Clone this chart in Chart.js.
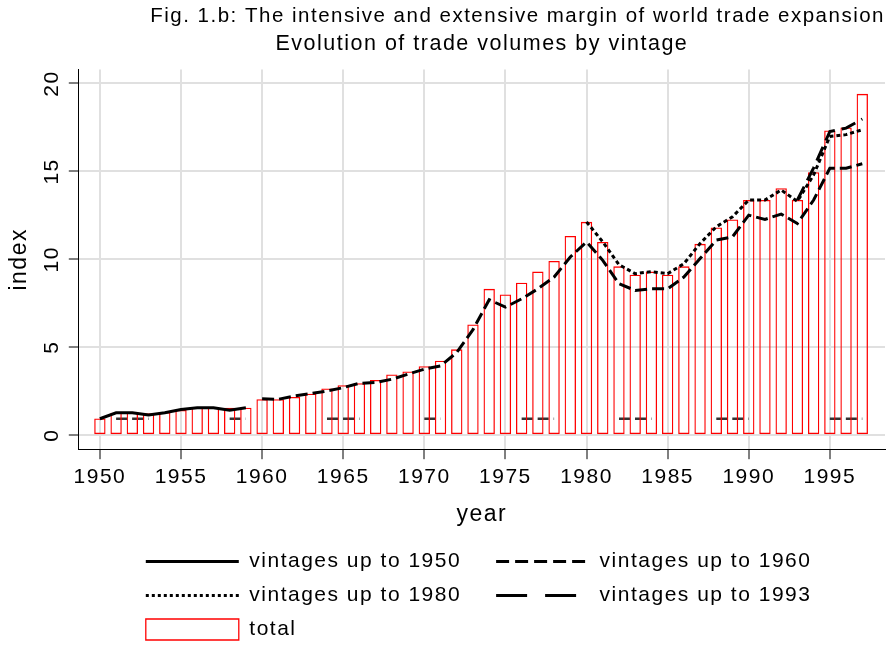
<!DOCTYPE html>
<html>
<head>
<meta charset="utf-8">
<title>Evolution of trade volumes by vintage</title>
<script src="https://cdn.jsdelivr.net/npm/chart.js@4.4.1/dist/chart.umd.min.js"></script>
<style>
  body { margin: 0; background: #fff; }
</style>
</head>
<body>
<canvas id="tradeChart" width="896" height="650"></canvas>
<script>
// years on the x axis
var years = [1950, 1951, 1952, 1953, 1954, 1955, 1956, 1957, 1958, 1959,
             1960, 1961, 1962, 1963, 1964, 1965, 1966, 1967, 1968, 1969,
             1970, 1971, 1972, 1973, 1974, 1975, 1976, 1977, 1978, 1979,
             1980, 1981, 1982, 1983, 1984, 1985, 1986, 1987, 1988, 1989,
             1990, 1991, 1992, 1993, 1994, 1995, 1996, 1997];

// total trade index (bars)
var total = [0.95, 1.27, 1.27, 1.24, 1.31, 1.43, 1.56, 1.56, 1.56, 1.56,
             2.04, 2.04, 2.17, 2.36, 2.65, 2.84, 2.95, 3.14, 3.45, 3.62,
             3.92, 4.23, 4.88, 6.29, 8.32, 8.0, 8.67, 9.3, 9.9, 11.33,
             12.13, 10.99, 9.6, 9.12, 9.3, 9.12, 9.6, 10.88, 11.81, 12.27,
             13.37, 13.37, 14.04, 13.37, 14.95, 17.33, 17.5, 19.41];

var v1950 = [0.93, 1.27, 1.27, 1.14, 1.27, 1.46, 1.56, 1.56, 1.41, 1.56,
             null, null, null, null, null, null, null, null, null, null,
             null, null, null, null, null, null, null, null, null, null,
             null, null, null, null, null, null, null, null, null, null,
             null, null, null, null, null, null, null, null];

var v1960 = [null, null, null, null, null, null, null, null, null, null,
             2.07, 2.04, 2.23, 2.36, 2.51, 2.7, 2.95, 2.99, 3.18, 3.47,
             3.75, 3.94, 4.7, 6.0, 7.7, 7.28, 7.75, 8.32, 8.99, 10.13,
             10.99, 9.94, 8.61, 8.23, 8.32, 8.32, 8.99, 10.04, 11.09, 11.28,
             12.51, 12.27, 12.57, 12.04, 13.37, 15.18, 15.18, 15.43];

var v1980 = [null, null, null, null, null, null, null, null, null, null,
             null, null, null, null, null, null, null, null, null, null,
             null, null, null, null, null, null, null, null, null, null,
             12.13, 10.99, 9.7, 9.18, 9.3, 9.18, 9.75, 10.9, 11.85, 12.42,
             13.37, 13.37, 13.94, 13.3, 14.8, 16.99, 17.09, 17.37];

var v1993 = [null, null, null, null, null, null, null, null, null, null,
             null, null, null, null, null, null, null, null, null, null,
             null, null, null, null, null, null, null, null, null, null,
             null, null, null, null, null, null, null, null, null, null,
             null, null, null, 13.37, 15.2, 17.27, 17.46, 17.98];

// short pieces near the bottom of the plot
var vBase = [null, 0.93, 0.93, 0.93, null, null, null, null, 0.93, 0.93,
             null, null, null, null, 0.93, 0.93, 0.93, null, null, null,
             0.93, 0.93, null, null, null, null, 0.93, 0.93, 0.93, null,
             null, null, 0.93, 0.93, 0.93, null, null, null, 0.93, 0.93,
             0.93, null, null, null, null, 0.93, 0.93, 0.93];

var xTicks = [1950, 1955, 1960, 1965, 1970, 1975, 1980, 1985, 1990, 1995];
var yTicks = [0, 5, 10, 15, 20];

// dash used for each series in the legend (Stata draws them longer there)
var legendDash = [[], [13, 6], [3, 3], [31, 18], []];

var gridColor = 'rgb(224, 224, 224)';

Chart.defaults.font.family = "'Liberation Sans', Arial, sans-serif";
Chart.defaults.color = '#000';

// the original text is set a little wider than normal
var letterSpacing = {
    id: 'letterSpacing',
    beforeUpdate: function (chart) {
        chart.ctx.letterSpacing = '1.5px';
    }
};

// move the legend block so its first column lines up under the plot
var legendIndent = {
    id: 'legendIndent',
    beforeDraw: function (chart) {
        chart.legend.left = chart.chartArea.left + 54;
    }
};

var ctx = document.getElementById('tradeChart').getContext('2d');
var myChart = new Chart(ctx, {
    type: 'bar',
    data: {
        labels: years,
        datasets: [{
            type: 'line',
            label: 'vintages up to 1950',
            data: v1950,
            borderColor: '#000',
            borderWidth: 3,
            pointRadius: 0,
            pointStyle: 'line'
        }, {
            type: 'line',
            label: 'vintages up to 1960',
            data: v1960,
            borderColor: '#000',
            borderWidth: 3,
            borderDash: [12, 5],
            pointRadius: 0,
            pointStyle: 'line'
        }, {
            type: 'line',
            label: 'vintages up to 1980',
            data: v1980,
            borderColor: '#000',
            borderWidth: 3,
            borderDash: [4, 3],
            pointRadius: 0,
            pointStyle: 'line'
        }, {
            type: 'line',
            label: 'vintages up to 1993',
            data: v1993,
            borderColor: '#000',
            borderWidth: 3,
            borderDash: [15, 7],
            pointRadius: 0,
            pointStyle: 'line'
        }, {
            label: 'total',
            data: total,
            backgroundColor: 'rgba(255, 255, 255, 0)',
            borderColor: 'rgb(255, 0, 0)',
            borderWidth: 1.3,
            borderSkipped: false,
            barPercentage: 0.7,
            categoryPercentage: 1,
            pointStyle: 'rect'
        }, {
            type: 'line',
            label: 'base',
            data: vBase,
            borderColor: '#333',
            borderWidth: 2.5,
            borderDash: [11, 5],
            pointRadius: 0
        }]
    },
    options: {
        responsive: false,
        animation: false,
        layout: {
            padding: { left: 2, right: 11, top: 0, bottom: 0 }
        },
        scales: {
            x: {
                type: 'linear',
                min: 1948.7,
                max: 1998.4,
                offset: false,
                afterBuildTicks: function (scale) {
                    scale.ticks = xTicks.map(function (v) { return { value: v }; });
                },
                ticks: {
                    font: { size: 21 },
                    padding: 5,
                    maxRotation: 0,
                    autoSkip: false,
                    callback: function (value) { return String(value); }
                },
                grid: {
                    color: gridColor,
                    lineWidth: 2,
                    offset: false,
                    tickLength: 10,
                    tickColor: '#000',
                    tickWidth: 1
                },
                border: { color: '#000', width: 1 },
                title: {
                    display: true,
                    text: 'year',
                    font: { size: 23 },
                    padding: { top: 6, bottom: 10 }
                }
            },
            y: {
                min: -0.8,
                max: 20.8,
                afterBuildTicks: function (scale) {
                    scale.ticks = yTicks.map(function (v) { return { value: v }; });
                },
                ticks: {
                    font: { size: 21 },
                    minRotation: 90,
                    maxRotation: 90,
                    crossAlign: 'center',
                    padding: 3
                },
                grid: {
                    color: gridColor,
                    lineWidth: 2,
                    tickLength: 10,
                    tickColor: '#000',
                    tickWidth: 1
                },
                border: { color: '#000', width: 1 },
                title: {
                    display: true,
                    text: 'index',
                    font: { size: 23 },
                    padding: { top: 4, bottom: 4 }
                }
            }
        },
        plugins: {
            title: {
                display: true,
                text: 'Fig. 1.b: The intensive and extensive margin of world trade expansion',
                align: 'end',
                fullSize: false,
                font: { size: 20.5, weight: 'normal' },
                padding: { top: 4, bottom: 3 }
            },
            subtitle: {
                display: true,
                text: 'Evolution of trade volumes by vintage',
                fullSize: false,
                font: { size: 21.5 },
                padding: { top: 0, bottom: 12 }
            },
            legend: {
                position: 'bottom',
                align: 'start',
                fullSize: false,
                labels: {
                    usePointStyle: true,
                    pointStyleWidth: 93,
                    font: { size: 21 },
                    padding: 13,
                    filter: function (item) { return item.datasetIndex < 5; },
                    generateLabels: function (chart) {
                        var items = Chart.defaults.plugins.legend.labels.generateLabels(chart);
                        items.forEach(function (item) {
                            if (legendDash[item.datasetIndex]) {
                                item.lineDash = legendDash[item.datasetIndex];
                            }
                            // first column items get a wider gap before the second column
                            if (item.datasetIndex === 0 || item.datasetIndex === 2) {
                                item.text = item.text + '   ';
                            }
                        });
                        return items;
                    }
                }
            },
            tooltip: { enabled: false }
        }
    },
    plugins: [letterSpacing, legendIndent]
});
</script>
</body>
</html>
